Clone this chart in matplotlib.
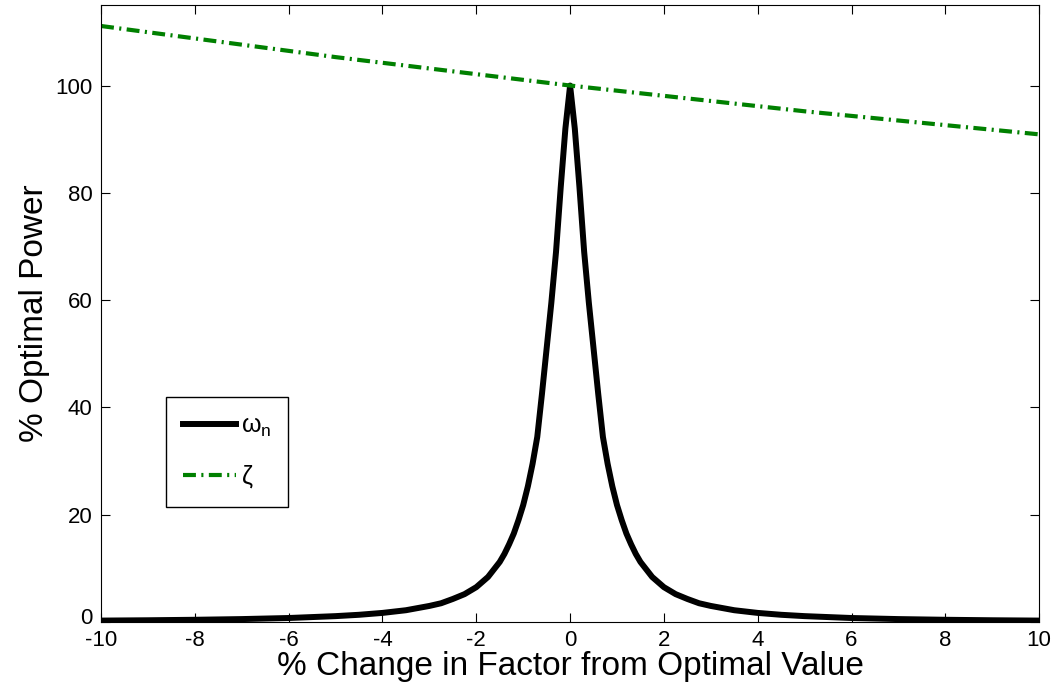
import matplotlib
matplotlib.use("Agg")

import matplotlib.pyplot as plt
import matplotlib.transforms as mtransforms

plt.rcParams["font.family"] = ["Liberation Sans", "DejaVu Sans"]
plt.rcParams["mathtext.fontset"] = "custom"
plt.rcParams["mathtext.rm"] = "Liberation Sans"
plt.rcParams["mathtext.it"] = "Liberation Sans"
plt.rcParams["axes.unicode_minus"] = False

# omega_n curve (symmetric about 0)
wn_half_x = [0, 0.1, 0.2, 0.3, 0.4, 0.5, 0.6, 0.7, 0.8, 0.9, 1.0, 1.1, 1.2,
             1.3, 1.4, 1.5, 1.75, 2.0, 2.25, 2.5, 2.75, 3.0, 3.5, 4.0, 4.5,
             5, 6, 7, 8, 9, 10]
wn_half_y = [100, 92, 81, 69, 59.5, 51, 42.5, 34.5, 29.5, 25.3, 21.8, 19, 16.5,
             14.5, 12.7, 11.2, 8.4, 6.5, 5.2, 4.3, 3.5, 3.0, 2.2, 1.7, 1.35,
             1.1, 0.75, 0.55, 0.42, 0.33, 0.27]

wn_x = [-v for v in wn_half_x[::-1]] + wn_half_x[1:]
wn_y = wn_half_y[::-1] + wn_half_y[1:]

# zeta curve
zeta_x = [-10, -5, 0, 5, 10]
zeta_y = [111.1, 105.3, 100, 95.2, 90.9]

xticks = [-10, -8, -6, -4, -2, 0, 2, 4, 6, 8, 10]
yticks = [0, 20, 40, 60, 80, 100]

fig = plt.figure(figsize=(10.57, 6.94), dpi=100)
ax = fig.add_axes([0.0956, 0.1037, 0.8875, 0.889])

ax.plot(wn_x, wn_y, color="black", linewidth=4.3, label=r"$\omega_{n}\ $")
ax.plot(zeta_x, zeta_y, color="#008000", linewidth=3.0, linestyle="-.",
        dashes=(3.1, 1.3, 0.5, 1.3), label=r"$\zeta$")

ax.set_xlim(-10, 10)
ax.set_ylim(0, 115)
ax.set_xticks(xticks)
ax.set_yticks(yticks)
ax.tick_params(direction="in", length=6.5, width=0.8, top=True, right=True,
               labelsize=16)
ax.tick_params(axis="x", pad=6)
ax.tick_params(axis="y", pad=6)

# nudge the "0" y label up a bit so it clears the "-10" below it
zero_lab = ax.get_yticklabels()[0]
zero_lab.set_transform(zero_lab.get_transform()
                       + mtransforms.ScaledTranslation(0, 4 / 72, fig.dpi_scale_trans))

ax.set_xlabel("% Change in Factor from Optimal Value", fontsize=24, labelpad=0)
ax.set_ylabel("% Optimal Power", fontsize=24, labelpad=4)

ax.legend(loc="lower left", bbox_to_anchor=(0.069, 0.186), fontsize=18,
          handlelength=2.1, handletextpad=0.2, labelspacing=0.95,
          borderpad=0.7, frameon=True, fancybox=False, edgecolor="black",
          framealpha=1, borderaxespad=0)

plt.savefig("out.png", dpi=100)
